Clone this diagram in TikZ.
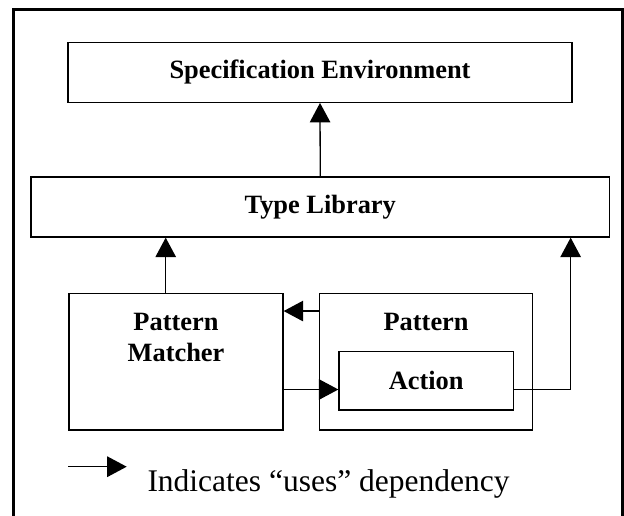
\documentclass[tikz,border=0pt]{standalone}
\usepackage{fontspec}
\setmainfont{Liberation Serif}
\usepackage{tikz}
\usetikzlibrary{arrows.meta,positioning,calc}

\begin{document}
\begin{tikzpicture}[x=1pt, y=-1pt,
    >={Triangle[length=19.5pt, width=20.5pt]},
    box/.style={draw, line width=1.3pt, inner sep=0pt,
      font=\bfseries\fontsize{26.4}{31.7}\selectfont},
    boxtitle/.style={inner sep=0pt, align=center, anchor=north,
      font=\bfseries\fontsize{26.4}{31.7}\selectfont},
    uses/.style={->, line width=1.3pt}]
  \useasboundingbox (0,0) rectangle (624,516);
  % open frame round the whole figure
  \draw[line width=3pt] (13.5,540) -- (13.5,9.5) -- (622.5,9.5) -- (622.5,540);
  \node[box, minimum width=504pt, minimum height=59.5pt] (spec) at (320,72.5)
    {Specification Environment};
  \node[box, minimum width=578.5pt, minimum height=60pt] (typelib) at (320.25,207)
    {Type Library};
  \node[box, minimum width=214pt, minimum height=136.5pt] (matcher) at (176,361.75) {};
  \node[box, minimum width=213.2pt, minimum height=136.5pt] (pattern) at (426.1,361.75) {};
  \node[box, minimum width=174.3pt, minimum height=58.3pt] (action) at (426.15,380.85)
    {Action};
  \node[boxtitle] (matchertitle) at (176,312.7) {Pattern\\Matcher};
  \node[boxtitle] (patterntitle) at (426.1,312.7) {Pattern};
  % dependencies
  \draw[uses] (typelib.north) -- (spec.south);
  \draw[uses] ([xshift=-10.3pt]matcher.north) -- ([xshift=-10.3pt]matcher.north |- typelib.south);
  \draw[uses] ([yshift=-18.2pt]pattern.north west) -- ([yshift=-18.2pt]pattern.north west -| matcher.east);
  \draw[uses] ([yshift=-8.65pt]action.west -| matcher.east) -- ([yshift=-8.65pt]action.west);
  \draw[uses] ([yshift=-8.65pt]action.east) -| ([xshift=-39.5pt]typelib.south east);
  % key
  \coordinate (keytail) at (68.3,466.7);
  \coordinate (keytip) at (126.7,466.7);
  \draw[uses] (keytail) -- (keytip);
  \node[inner sep=0pt, anchor=base west, font=\fontsize{31.5}{38}\selectfont]
    (keytext) at (147.3,491.7) {Indicates “uses” dependency};
\end{tikzpicture}
\end{document}
